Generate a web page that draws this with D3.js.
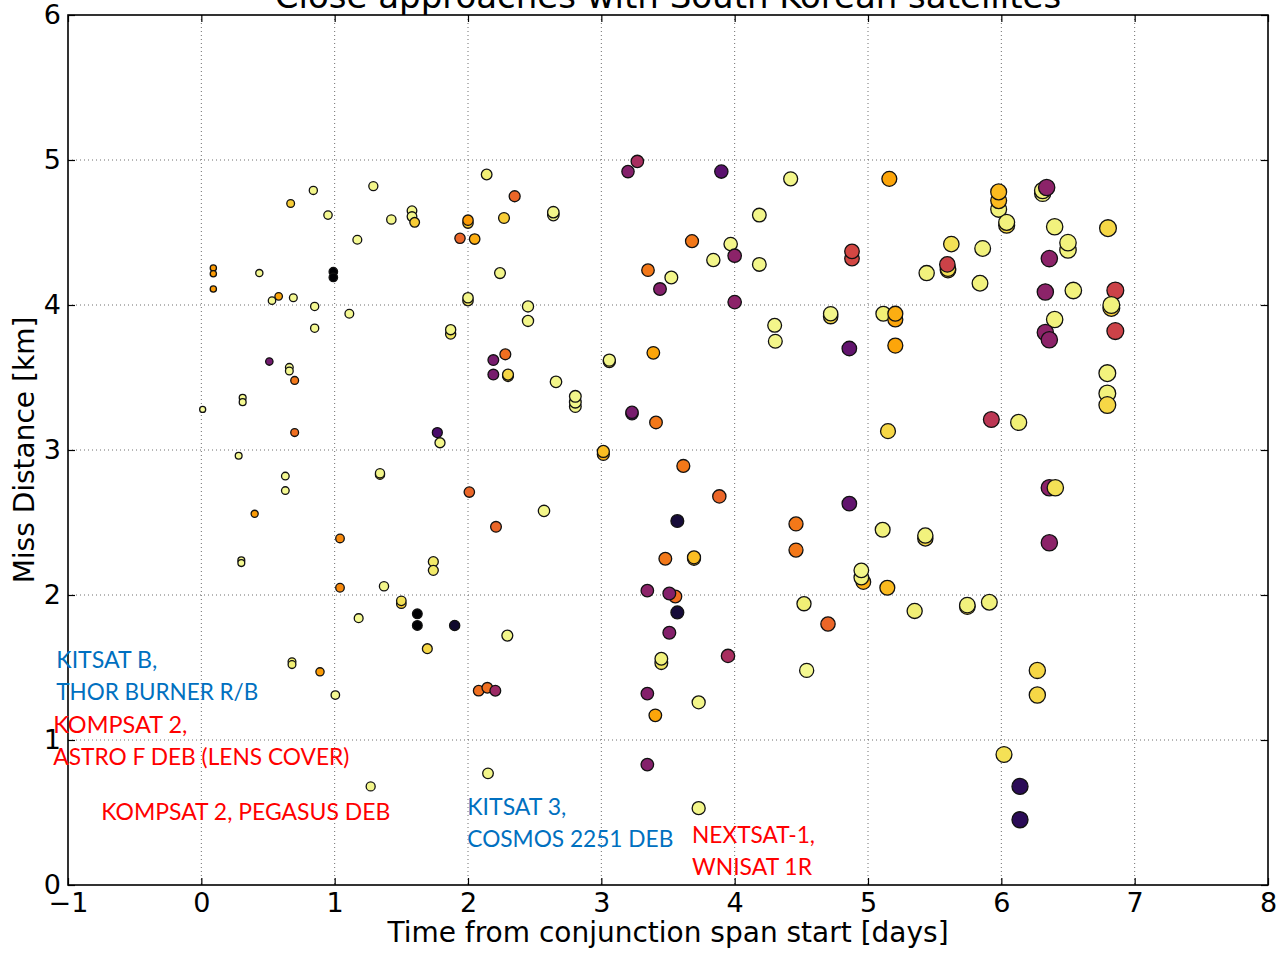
<!DOCTYPE html>
<html><head><meta charset="utf-8">
<script src="https://cdn.jsdelivr.net/npm/d3@7"></script>
<style>body{margin:0;background:#fff;} svg{display:block}</style>
</head><body><svg id="c" width="1281" height="958"></svg>
<script>
const xTicks = [-1,0,1,2,3,4,5,6,7,8];
const yTicks = [0,1,2,3,4,5,6];
const title = "Close approaches with South Korean satellites";
const xLabel = "Time from conjunction span start [days]";
const yLabel = "Miss Distance [km]";

const time = [0.09,0.09,0.09,0.01,0.28,0.31,0.31,0.40,0.30,0.30,
0.435,0.53,0.58,0.51,0.66,0.66,0.70,0.67,0.84,0.95,
1.17,0.99,0.99,0.69,0.85,0.85,1.11,0.70,0.63,0.63,
1.04,1.04,1.18,0.68,0.68,0.89,1.005,1.27,1.62,1.62,
1.90,1.695,2.08,2.145,2.205,1.29,1.425,1.58,1.58,1.60,
2.14,2.35,2.00,2.00,1.94,2.05,2.27,2.64,2.64,2.24,
2.00,2.00,2.45,2.45,1.87,1.87,2.19,2.28,2.19,2.30,
2.30,2.66,2.805,2.805,2.805,3.20,3.27,3.35,3.44,3.06,
3.06,3.39,1.77,1.79,1.34,1.34,2.01,2.57,2.21,1.74,
1.74,1.37,1.50,1.50,2.295,3.23,3.23,3.41,3.015,3.015,
3.555,3.345,3.51,3.90,4.42,4.185,3.68,3.97,4.00,3.84,
4.185,3.525,4.00,4.30,4.305,4.72,4.72,4.86,4.88,4.88,
5.16,5.115,5.205,5.205,5.205,3.615,3.885,3.57,3.48,3.695,
3.695,3.57,3.51,3.95,3.45,3.45,3.345,3.73,4.46,4.46,
4.86,5.11,4.965,4.95,4.95,5.145,4.52,4.70,4.54,5.15,
3.405,3.345,3.73,6.02,6.14,6.14,6.27,6.27,2.15,5.98,
5.98,5.98,6.04,6.04,6.31,6.31,6.34,6.40,6.80,5.625,
5.86,6.50,6.50,6.36,5.60,5.60,5.595,5.44,5.84,6.54,
6.33,6.855,6.825,6.825,6.40,6.33,6.36,6.855,6.795,6.795,
6.795,5.925,6.13,6.36,6.405,6.36,5.43,5.43,5.35,5.745,
5.745,5.91];

const dist = [4.255,4.215,4.11,3.28,2.96,3.36,3.33,2.56,2.24,2.22,
4.22,4.03,4.06,3.61,3.57,3.545,3.48,4.70,4.79,4.62,
4.45,4.23,4.19,4.05,3.99,3.84,3.94,3.12,2.82,2.72,
2.39,2.05,1.84,1.54,1.52,1.47,1.31,0.68,1.87,1.79,
1.79,1.63,1.34,1.36,1.34,4.82,4.59,4.65,4.61,4.57,
4.90,4.75,4.565,4.585,4.46,4.455,4.60,4.62,4.64,4.22,
4.03,4.05,3.99,3.89,3.80,3.83,3.62,3.66,3.52,3.51,
3.52,3.47,3.30,3.33,3.37,4.92,4.99,4.24,4.11,3.61,
3.62,3.67,3.12,3.05,2.83,2.84,2.71,2.58,2.47,2.23,
2.17,2.06,1.94,1.96,1.72,3.25,3.26,3.19,2.97,2.99,
1.99,2.03,2.01,4.92,4.87,4.62,4.44,4.42,4.34,4.31,
4.28,4.19,4.02,3.86,3.75,3.92,3.94,3.70,4.32,4.37,
4.87,3.94,3.90,3.94,3.72,2.89,2.68,2.51,2.25,2.25,
2.26,1.88,1.74,1.58,1.53,1.56,1.32,1.26,2.49,2.31,
2.63,2.45,2.09,2.12,2.17,2.05,1.94,1.80,1.48,3.13,
1.17,0.83,0.53,0.90,0.68,0.45,1.48,1.31,0.77,4.66,
4.72,4.78,4.55,4.57,4.77,4.79,4.81,4.54,4.53,4.42,
4.39,4.38,4.43,4.32,4.24,4.25,4.28,4.22,4.15,4.10,
4.09,4.10,3.98,4.00,3.90,3.81,3.76,3.82,3.53,3.39,
3.31,3.21,3.19,2.74,2.74,2.36,2.39,2.41,1.89,1.92,
1.93,1.95];

const shade = [0.78,0.78,0.78,0.99,0.98,0.98,0.98,0.78,0.98,0.98,
0.98,0.98,0.80,0.32,0.98,0.98,0.70,0.88,0.97,0.98,
0.98,0.00,0.00,0.98,0.98,0.98,0.98,0.68,0.98,0.98,
0.74,0.74,0.98,0.95,0.95,0.78,0.98,0.97,0.00,0.00,
0.08,0.90,0.68,0.68,0.42,0.97,0.97,0.97,0.97,0.88,
0.95,0.66,0.88,0.78,0.66,0.82,0.88,0.97,0.97,0.97,
0.93,0.97,0.97,0.97,0.93,0.97,0.33,0.68,0.33,0.88,
0.90,0.97,0.97,0.97,0.97,0.36,0.45,0.70,0.36,0.90,
0.97,0.80,0.22,0.97,0.90,0.97,0.66,0.97,0.66,0.94,
0.94,0.97,0.88,0.92,0.97,0.20,0.33,0.70,0.82,0.85,
0.68,0.38,0.36,0.26,0.97,0.97,0.70,0.97,0.38,0.97,
0.97,0.97,0.38,0.97,0.97,0.90,0.97,0.28,0.57,0.57,
0.80,0.95,0.80,0.82,0.80,0.70,0.66,0.10,0.70,0.84,
0.85,0.10,0.36,0.45,0.93,0.96,0.36,0.97,0.70,0.70,
0.28,0.96,0.82,0.96,0.97,0.84,0.95,0.66,0.98,0.90,
0.80,0.36,0.97,0.92,0.15,0.15,0.90,0.90,0.97,0.96,
0.84,0.84,0.90,0.96,0.96,0.96,0.38,0.96,0.90,0.92,
0.96,0.96,0.96,0.38,0.88,0.92,0.55,0.96,0.96,0.96,
0.38,0.55,0.88,0.96,0.96,0.38,0.38,0.55,0.96,0.96,
0.90,0.50,0.95,0.38,0.92,0.38,0.90,0.96,0.95,0.90,
0.96,0.96];

const noteText = [["KITSAT B,","THOR BURNER R/B"],["KOMPSAT 2,","ASTRO F DEB (LENS COVER)"],["KOMPSAT 2, PEGASUS DEB"],["KITSAT 3,","COSMOS 2251 DEB"],["NEXTSAT-1,","WNISAT 1R"]];
const noteColor = ["#0070C0","#FF0000","#FF0000","#0070C0","#FF0000"];
const noteX = [-1.088,-1.11,-0.75,1.995,3.68];
const noteY = [1.497,1.048,0.448,0.483,0.290];
const noteWidths = [[101,202],[134,296],[289],[99,206],[123,120]];

const svg = d3.select("#c");
const L = 68, R = 1268, T = 15, B = 885;
const x = d3.scaleLinear().domain([-1,8]).range([L,R]);
const y = d3.scaleLinear().domain([0,6]).range([B,T]);
// marker area grows linearly with time
const rad = t => Math.sqrt(9 + 9*t);

// grid
const g = svg.append("g");
g.selectAll("line.gx").data(xTicks.slice(1,-1)).join("line")
  .attr("x1",d=>x(d)).attr("x2",d=>x(d)).attr("y1",T).attr("y2",B)
  .attr("stroke","#6e6e6e").attr("stroke-width",1).attr("stroke-dasharray","1,3");
g.selectAll("line.gy").data(yTicks.slice(1,-1)).join("line")
  .attr("y1",d=>y(d)).attr("y2",d=>y(d)).attr("x1",L).attr("x2",R)
  .attr("stroke","#6e6e6e").attr("stroke-width",1).attr("stroke-dasharray","1,3");

// points
const pts = time.map((t,i)=>({t, d:dist[i], c:shade[i]}));
svg.append("g").selectAll("circle").data(pts).join("circle")
  .attr("cx",p=>x(p.t)).attr("cy",p=>y(p.d)).attr("r",p=>rad(p.t))
  .attr("fill",p=>d3.interpolateInferno(p.c))
  .attr("stroke","#111").attr("stroke-width",1.3);

// axes
const ax = (sel)=>sel.call(s=>s.selectAll("text").style("font-family","DejaVu Sans").style("font-size","27px").attr("fill","#000"))
  .call(s=>s.selectAll("line").attr("stroke","#000").attr("stroke-width",1.2))
  .call(s=>s.select(".domain").remove());
svg.append("g").attr("transform",`translate(0,${B})`)
  .call(d3.axisBottom(x).tickValues(xTicks).tickSize(-7).tickPadding(8).tickFormat(d3.format("d"))).call(ax);
svg.append("g").attr("transform",`translate(0,${T})`)
  .call(d3.axisTop(x).tickValues(xTicks).tickSize(-7).tickFormat("")).call(ax);
svg.append("g").attr("transform",`translate(${L},0)`)
  .call(d3.axisLeft(y).tickValues(yTicks).tickSize(-7).tickPadding(7).tickFormat(d3.format("d"))).call(ax);
svg.append("g").attr("transform",`translate(${R},0)`)
  .call(d3.axisRight(y).tickValues(yTicks).tickSize(-7).tickFormat("")).call(ax);

svg.append("rect").attr("x",L).attr("y",T).attr("width",R-L).attr("height",B-T)
  .attr("fill","none").attr("stroke","#000").attr("stroke-width",1.6);

// labels
svg.append("text").attr("x",(L+R)/2).attr("y",942).attr("text-anchor","middle")
  .style("font-family","DejaVu Sans").style("font-size","28px").text(xLabel);
svg.append("text").attr("transform",`translate(34,${(T+B)/2}) rotate(-90)`).attr("text-anchor","middle")
  .style("font-family","DejaVu Sans").style("font-size","28px").text(yLabel);
svg.append("text").attr("x",668).attr("y",8).attr("text-anchor","middle")
  .style("font-family","DejaVu Sans").style("font-size","34px").text(title);

// annotations
noteText.forEach((lines,i)=>{
  lines.forEach((ln,j)=>{
    svg.append("text").attr("x",x(noteX[i])).attr("y",y(noteY[i])+j*32)
      .attr("fill",noteColor[i]).style("font-family","Lato").style("font-size","23px")
      .attr("textLength",noteWidths[i][j]).attr("lengthAdjust","spacingAndGlyphs")
      .text(ln);
  });
});
</script></body></html>
